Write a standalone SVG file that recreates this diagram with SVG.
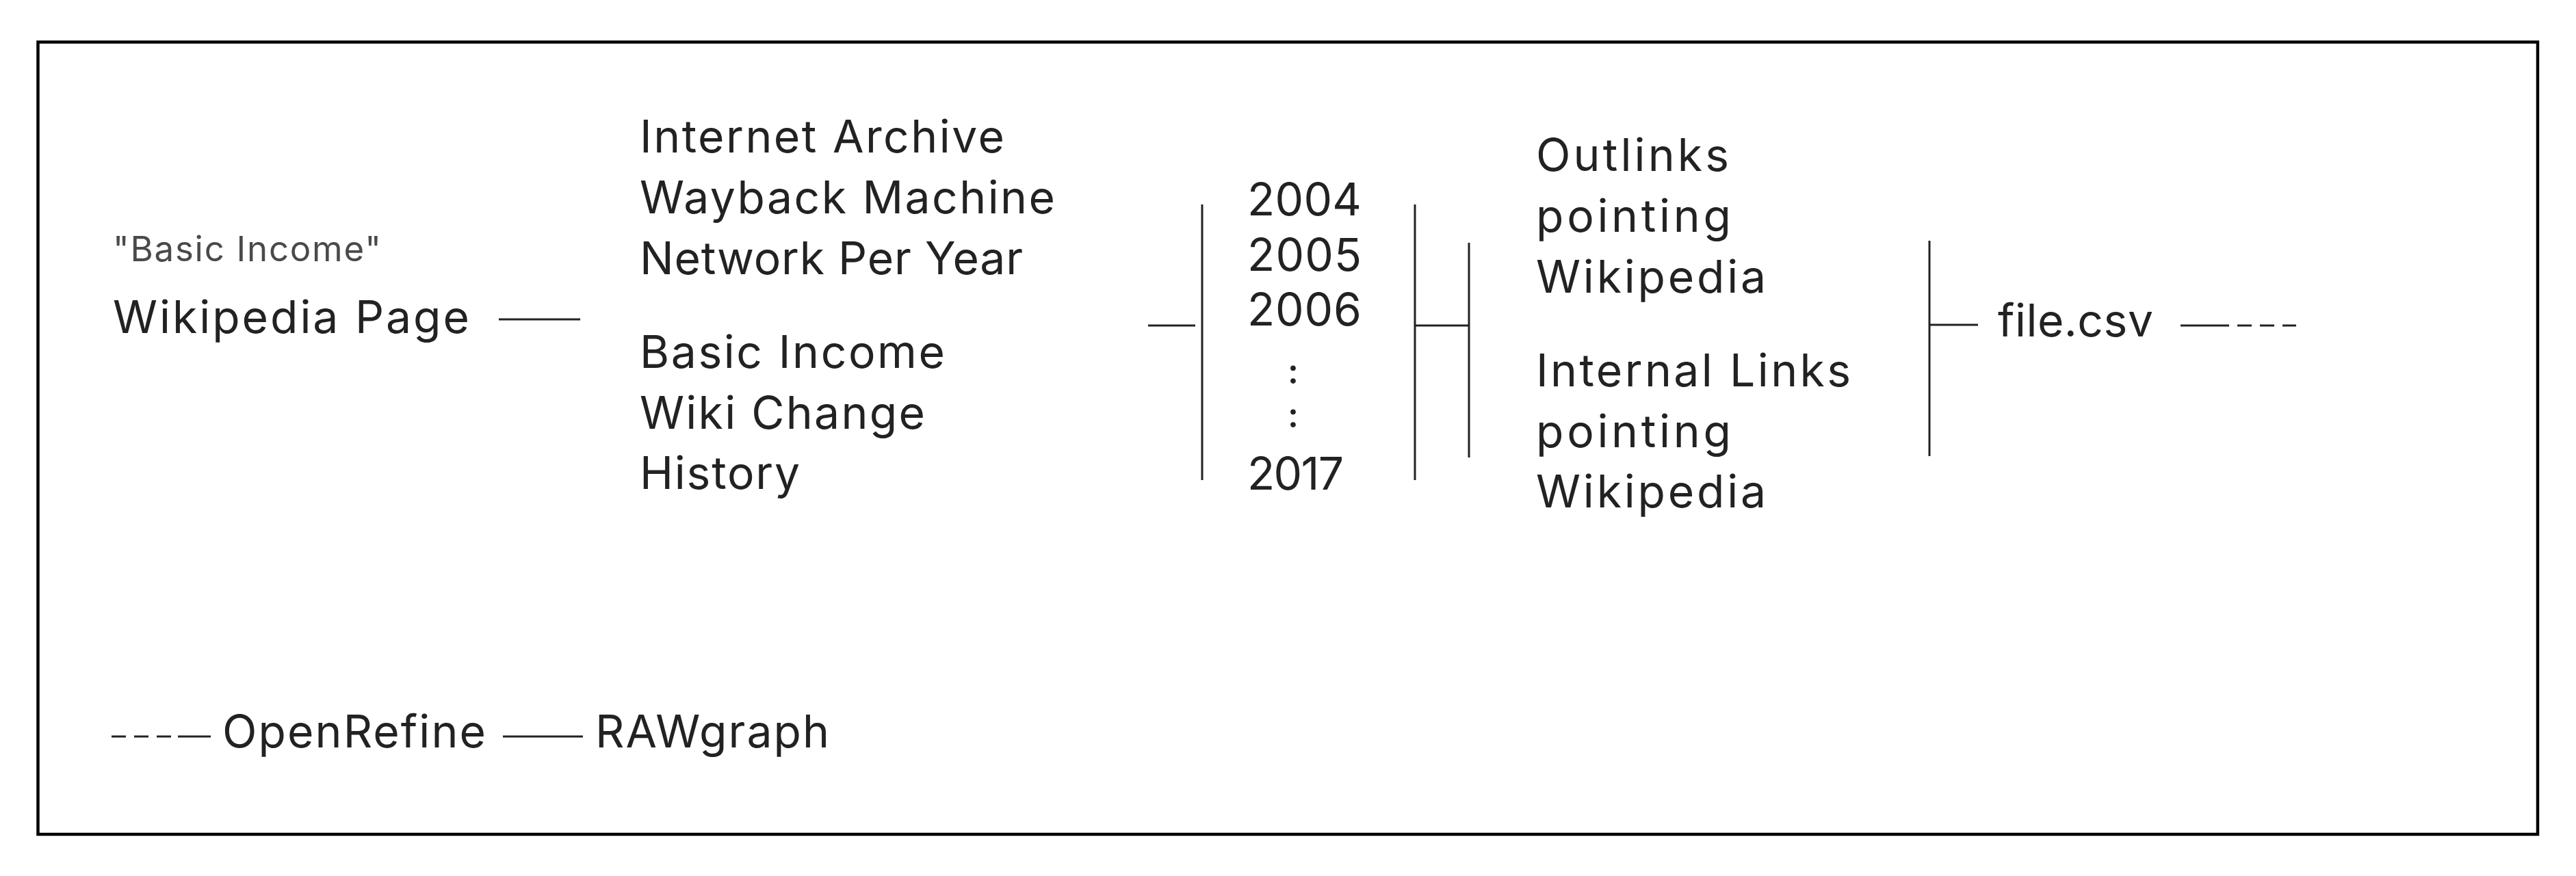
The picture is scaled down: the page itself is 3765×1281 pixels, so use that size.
<svg xmlns="http://www.w3.org/2000/svg" width="3765" height="1281" viewBox="0 0 3765 1281">
<style>
.t{font-family:Inter,"Open Sans","Liberation Sans",sans-serif;font-size:66px;fill:#222;}
.s{font-family:Inter,"Open Sans","Liberation Sans",sans-serif;font-size:51px;fill:#4a4a4a;}
.c{font-family:Inter,"Open Sans","Liberation Sans",sans-serif;font-size:50px;font-weight:600;fill:#222;text-anchor:middle;}
.ln{stroke:#222;stroke-width:3;fill:none;}
.ds{stroke:#222;stroke-width:3;fill:none;stroke-dasharray:21 12;}
</style>
<rect x="0" y="0" width="3765" height="1281" fill="#fff"/>
<rect id="frame" x="55.5" y="61.5" width="3653.5" height="1158.5" fill="none" stroke="#000" stroke-width="4.5"/>
<g id="connectors">
<line class="ln" x1="729" y1="467" x2="848" y2="467"/>
<line class="ln" x1="1678" y1="476" x2="1747" y2="476"/>
<line class="ln" x1="1757" y1="299" x2="1757" y2="702"/>
<line class="ln" x1="2068" y1="299" x2="2068" y2="702"/>
<line class="ln" x1="2068" y1="476" x2="2147" y2="476"/>
<line class="ln" x1="2147" y1="355" x2="2147" y2="669"/>
<line class="ln" x1="2820" y1="352" x2="2820" y2="667"/>
<line class="ln" x1="2820" y1="475" x2="2891" y2="475"/>
<line class="ln" x1="3187" y1="476" x2="3258" y2="476"/>
<line class="ds" x1="3270" y1="476" x2="3356" y2="476"/>
<line class="ds" x1="163" y1="1077" x2="250" y2="1077"/>
<line class="ln" x1="260" y1="1077" x2="308" y2="1077"/>
<line class="ln" x1="735" y1="1077" x2="852" y2="1077"/>
</g>
<g id="node-wikipedia">
<text class="s" x="165" y="382" textLength="392" lengthAdjust="spacing">"Basic Income"</text>
<text class="t" x="165" y="487" textLength="521" lengthAdjust="spacing">Wikipedia Page</text>
</g>
<g id="node-wayback">
<text class="t" x="935" y="223" textLength="533" lengthAdjust="spacing">Internet Archive</text>
<text class="t" x="935" y="312" textLength="607" lengthAdjust="spacing">Wayback Machine</text>
<text class="t" x="935" y="401" textLength="560" lengthAdjust="spacing">Network Per Year</text>
</g>
<g id="node-history">
<text class="t" x="935" y="538" textLength="446" lengthAdjust="spacing">Basic Income</text>
<text class="t" x="935" y="627" textLength="417" lengthAdjust="spacing">Wiki Change</text>
<text class="t" x="935" y="715" textLength="234" lengthAdjust="spacing">History</text>
</g>
<g id="node-years">
<text class="t" x="1823" y="315" textLength="167" lengthAdjust="spacing">2004</text>
<text class="t" x="1823" y="396" textLength="167" lengthAdjust="spacing">2005</text>
<text class="t" x="1823" y="476" textLength="167" lengthAdjust="spacing">2006</text>
<text class="c" x="1890" y="561">:</text>
<text class="c" x="1890" y="625">:</text>
<text class="t" x="1823" y="716" textLength="141" lengthAdjust="spacing">2017</text>
</g>
<g id="node-outlinks">
<text class="t" x="2245" y="250" textLength="282" lengthAdjust="spacing">Outlinks</text>
<text class="t" x="2245" y="339" textLength="285" lengthAdjust="spacing">pointing</text>
<text class="t" x="2245" y="428" textLength="336" lengthAdjust="spacing">Wikipedia</text>
</g>
<g id="node-internal">
<text class="t" x="2245" y="565" textLength="460" lengthAdjust="spacing">Internal Links</text>
<text class="t" x="2245" y="654" textLength="285" lengthAdjust="spacing">pointing</text>
<text class="t" x="2245" y="742" textLength="336" lengthAdjust="spacing">Wikipedia</text>
</g>
<g id="node-file">
<text class="t" x="2920" y="492" textLength="227" lengthAdjust="spacing">file.csv</text>
</g>
<g id="node-openrefine">
<text class="t" x="325" y="1093" textLength="385" lengthAdjust="spacing">OpenRefine</text>
</g>
<g id="node-rawgraph">
<text class="t" x="870" y="1093" textLength="342" lengthAdjust="spacing">RAWgraph</text>
</g>
</svg>
